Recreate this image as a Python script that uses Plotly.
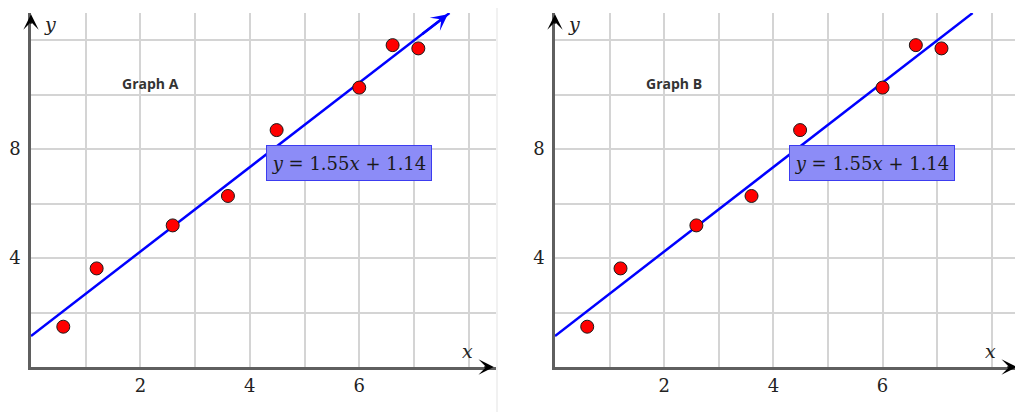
import plotly.graph_objects as go

# scatter data (same in both panels)
x_vals = [0.59, 1.20, 2.59, 3.60, 4.49, 6.00, 6.61, 7.08]
y_vals = [1.48, 3.62, 5.20, 6.28, 8.70, 10.26, 11.82, 11.70]

# fitted line y = slope * x + intercept
slope = 1.55
intercept = 1.14
line_x = [0, 7.65]
line_y = [slope * v + intercept for v in line_x]

panel_titles = ["Graph A", "Graph B"]
x_ticks = [2, 4, 6]
y_ticks = [4, 8]

GRID = "#d4d4d4"
AXIS = "#5f5f5f"
SERIF = "DejaVu Serif"
TICKFONT = dict(family=SERIF, size=18, color="#222")

# the page puts the figure 8px in from the top-left corner, so target
# pixel positions are shifted by that much
OFF = 8
W, H = 1023, 412


def px_x(a, b):
    return [(a - OFF) / W, (b - OFF) / W]


Y_DOM = [(H - (367 - OFF)) / H, (H - (13 - OFF)) / H]


def x_axis(domain, anchor):
    return dict(
        domain=domain, anchor=anchor, range=[0, 8.5], automargin=False,
        tickmode="array", tickvals=x_ticks, ticks="", ticklabelstandoff=1,
        tickfont=TICKFONT,
        showgrid=True, gridcolor=GRID, gridwidth=1.5,
        minor=dict(tick0=0, dtick=1, showgrid=True, gridcolor=GRID, gridwidth=1.5),
        showline=True, linecolor=AXIS, linewidth=2.5, zeroline=False, fixedrange=True,
    )


def y_axis(anchor):
    return dict(
        domain=Y_DOM, anchor=anchor, range=[0, 13], automargin=False,
        tickmode="array", tickvals=y_ticks, ticks="", ticklabelstandoff=4,
        tickfont=TICKFONT,
        showgrid=True, gridcolor=GRID, gridwidth=1.5,
        minor=dict(tick0=0, dtick=2, showgrid=True, gridcolor=GRID, gridwidth=1.5),
        showline=True, linecolor=AXIS, linewidth=2.5, zeroline=False, fixedrange=True,
    )


def arrow(x, y, xa, ya, ax, ay, color, width, size):
    # arrow-only annotation; tiny font keeps the empty text box from hiding the head
    return dict(x=x, y=y, xref=xa, yref=ya, ax=ax, ay=ay, text="", showarrow=True,
                arrowhead=3, arrowsize=size, arrowwidth=width, arrowcolor=color,
                font=dict(size=1), borderpad=0)


fig = go.Figure()
annotations = []
for i, title in enumerate(panel_titles):
    xa = "x" if i == 0 else "x2"
    ya = "y" if i == 0 else "y2"
    fig.add_trace(go.Scatter(
        x=line_x, y=line_y, mode="lines", xaxis=xa, yaxis=ya,
        line=dict(color="#0000ff", width=2.5), hoverinfo="skip", showlegend=False,
    ))
    fig.add_trace(go.Scatter(
        x=x_vals, y=y_vals, mode="markers", xaxis=xa, yaxis=ya,
        marker=dict(color="#ff0000", size=13, line=dict(color="#1a1a1a", width=1)),
        showlegend=False,
    ))
    # panel label
    annotations.append(dict(
        x=2.18, y=10.4, xref=xa, yref=ya, text=f"<b>{title}</b>", showarrow=False,
        font=dict(family="Open Sans", size=14, color="#333"),
    ))
    # equation box
    annotations.append(dict(
        x=4.29, y=8.15, xref=xa, yref=ya, xanchor="left", yanchor="top",
        text="<i>y</i> = 1.55<i>x</i> + 1.14", showarrow=False,
        font=dict(family=SERIF, size=18, color="#1a1a1a"),
        bgcolor="#8c8cf7", bordercolor="#3c3cf0", borderwidth=1, borderpad=1,
        width=162, height=32,
    ))
    # axis names
    annotations.append(dict(x=7.98, y=0.58, xref=xa, yref=ya, text="<i>x</i>",
                             showarrow=False, font=dict(family=SERIF, size=19, color="#222")))
    annotations.append(dict(x=0.34, y=12.6, xref=xa, yref=ya, text="<i>y</i>",
                             showarrow=False, font=dict(family=SERIF, size=19, color="#222")))
    # axis arrowheads
    annotations.append(arrow(8.46, 0, xa, ya, -10, 0, "black", 1.6, 1.6))
    annotations.append(arrow(0, 12.95, xa, ya, 0, 10, "black", 1.6, 1.6))

# arrowhead on the fitted line in Graph A (tip kept inside the y range)
tip_x = 7.62
annotations.append(arrow(tip_x, slope * tip_x + intercept, "x", "y", -26, 20,
                         "#0000ff", 2.5, 1.1))

fig.update_layout(
    width=W, height=H,
    margin=dict(l=0, r=0, t=0, b=0, autoexpand=False),
    font=dict(family=SERIF, color="#222"),
    paper_bgcolor="white", plot_bgcolor="white",
    xaxis=x_axis(px_x(31, 496), "y"),
    yaxis=y_axis("x"),
    xaxis2=x_axis(px_x(555, 1019), "y2"),
    yaxis2=y_axis("x2"),
    annotations=annotations,
    shapes=[dict(type="line", xref="paper", yref="paper",
                 x0=(497 - OFF) / W, x1=(497 - OFF) / W,
                 y0=0, y1=1, line=dict(color="#ececec", width=1.5))],
)

fig.write_html("out.html")
